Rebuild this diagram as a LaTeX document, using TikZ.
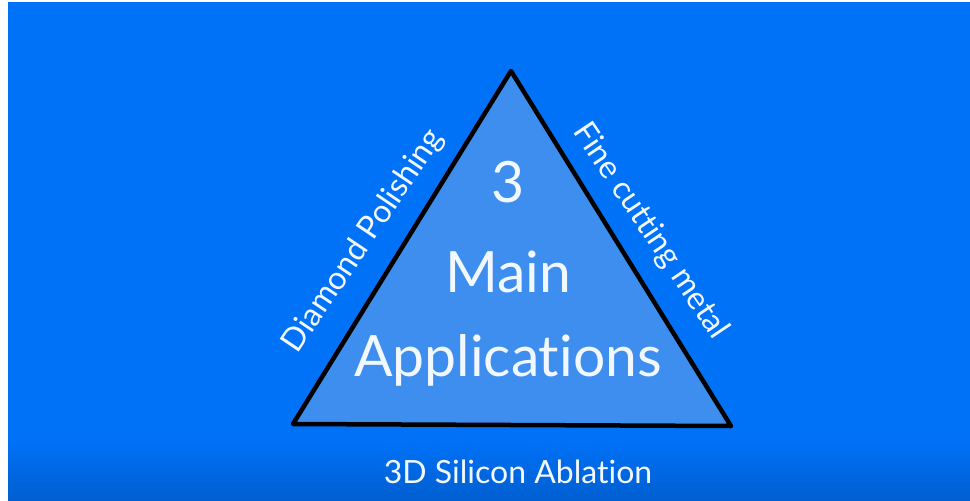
\documentclass[tikz,border=0pt]{standalone}
\usepackage{fontspec}
\setmainfont{Lato}[Ligatures={NoCommon}]
\definecolor{bgblue}{RGB}{0,114,248}
\definecolor{bgdark}{RGB}{0,94,208}
\definecolor{trifill}{RGB}{62,142,240}
\definecolor{txt}{RGB}{242,248,255}
\begin{document}
\begin{tikzpicture}[x=1pt,y=-1pt,
  bigtext/.style={text=txt,font=\fontsize{57}{57}\selectfont,anchor=base,inner sep=0pt},
  sidetext/.style={text=txt,font=\fontsize{32}{32}\selectfont,anchor=base,inner sep=0pt}]
\useasboundingbox (0,0) rectangle (970,501);
\fill[white] (0,0) rectangle (970,501);
\fill[bgblue] (8,2) rectangle (970,440);
\shade[top color=bgblue,bottom color=bgdark] (8,439.5) rectangle (970,501);
\coordinate (T) at (511,71);
\coordinate (L) at (293,424);
\coordinate (R) at (731,426);
\draw[fill=trifill,line width=4.5pt,line join=round] (T) -- (L) -- (R) -- cycle;
\node[bigtext] (three) at (508,202) {3};
\node[bigtext] (main) at (508,292) {Main};
\node[bigtext] (apps) at (508,376) {Applications};
\node[sidetext,rotate=56] (diamond) at (371,246) {Diamond Polishing};
\node[sidetext,rotate=-56] (fine) at (643,236) {Fine cutting metal};
\node[sidetext] (silicon) at (518,483) {3D Silicon Ablation};
\end{tikzpicture}
\end{document}
